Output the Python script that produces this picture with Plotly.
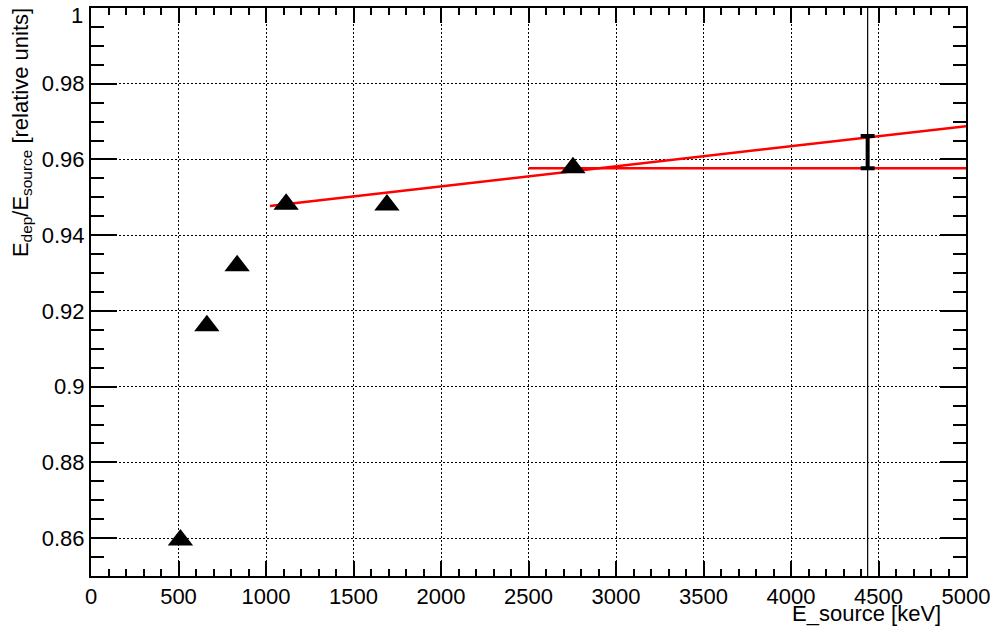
import plotly.graph_objects as go

# Data
energies = [511, 662, 835, 1115, 1691, 2754]
ratios = [0.8595, 0.9161, 0.9319, 0.9482, 0.9480, 0.9578]

fit_x = [1022, 5000]
fit_y = [0.9477, 0.9688]

level_x = [2500, 5000]
level_y = [0.9577, 0.9577]

marker_line_x = [4438, 4438]
marker_line_y = [0.85, 1.0]

err_x = [4438]
err_y = [0.9577]
err_plus = [0.0085]

x_ticks = [0, 500, 1000, 1500, 2000, 2500, 3000, 3500, 4000, 4500, 5000]
y_ticks = [0.86, 0.88, 0.90, 0.92, 0.94, 0.96, 0.98, 1.0]
y_top_label = "1"

FONT = "Liberation Sans, Arial, Helvetica, sans-serif"

fig = go.Figure()

fig.add_trace(go.Scatter(x=marker_line_x, y=marker_line_y, mode="lines",
                         line=dict(color="black", width=1.2), showlegend=False, hoverinfo="skip"))
fig.add_trace(go.Scatter(x=fit_x, y=fit_y, mode="lines",
                         line=dict(color="#ff0000", width=2.5), showlegend=False))
fig.add_trace(go.Scatter(x=level_x, y=level_y, mode="lines",
                         line=dict(color="#ff0000", width=2.5), showlegend=False))
fig.add_trace(go.Scatter(x=err_x, y=err_y, mode="markers",
                         marker=dict(size=1, color="rgba(0,0,0,0)"),
                         error_y=dict(type="data", array=err_plus, arrayminus=[0],
                                      color="black", thickness=4, width=7, symmetric=False),
                         showlegend=False))
fig.add_trace(go.Scatter(x=energies, y=ratios, mode="markers",
                         marker=dict(symbol="triangle-up", size=22, color="black"),
                         showlegend=False))

axis_common = dict(
    showline=True, linecolor="black", linewidth=2, mirror="allticks",
    ticks="inside", tickcolor="black", tickwidth=1.5,
    showgrid=True, gridcolor="black", gridwidth=1, griddash="2px,2px",
    zeroline=False, automargin=False, ticklabeloverflow="allow",
    tickfont=dict(family=FONT, size=22, color="black"),
)

fig.update_xaxes(range=[0, 5000], tickvals=x_ticks, ticklen=15,
                 minor=dict(dtick=100, tick0=0, ticklen=7, ticks="inside",
                            tickcolor="black", tickwidth=1.5, showgrid=False),
                 **axis_common)
# top label "1" is nudged down (as in the reference) via an annotation below
fig.update_yaxes(range=[0.85, 1.0], tickvals=y_ticks,
                 ticktext=[("%g" % v) if v < 1.0 else "" for v in y_ticks], ticklen=26,
                 minor=dict(dtick=0.005, tick0=0.85, ticklen=13, ticks="inside",
                            tickcolor="black", tickwidth=1.5, showgrid=False),
                 **axis_common)

fig.add_annotation(text=y_top_label, xref="paper", yref="paper",
                   x=-0.007, y=1.0132, xanchor="right", yanchor="top", showarrow=False,
                   font=dict(family=FONT, size=22, color="black"))
fig.add_annotation(text="E_source [keV]", xref="paper", yref="paper",
                   x=0.974, y=-0.040, xanchor="right", yanchor="top", showarrow=False,
                   font=dict(family=FONT, size=22, color="black"))
fig.add_annotation(text="E<sub>dep</sub>/E<sub>source</sub> [relative units]",
                   xref="paper", yref="paper", x=-0.079, y=1.004,
                   xanchor="center", yanchor="top", textangle=-90, showarrow=False,
                   font=dict(family=FONT, size=22, color="black"))

fig.update_layout(
    width=995, height=634,
    margin=dict(l=91, r=29, t=8, b=58),
    paper_bgcolor="white", plot_bgcolor="white",
    font=dict(family=FONT, color="black"),
)

fig.write_html("out.html", config={"displayModeBar": False},
               post_script="document.body.style.margin='0';document.body.style.overflow='hidden';")
